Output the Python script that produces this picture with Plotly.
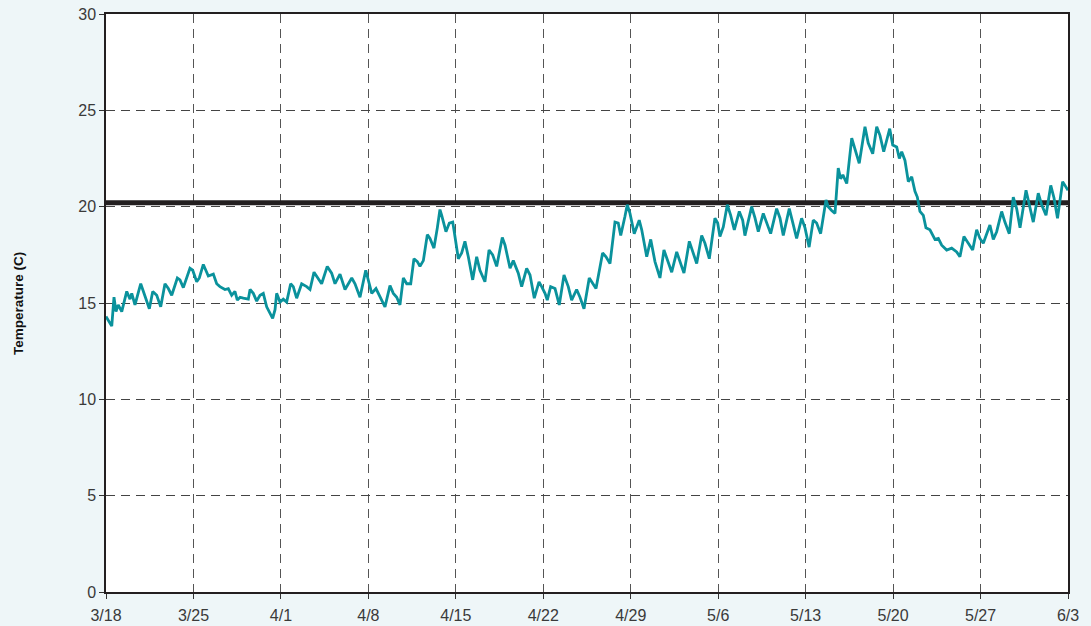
import pandas as pd
import plotly.graph_objects as go

# Water temperature record: elapsed days since 3/18 and readings in degrees C
start_date = "2011-03-18"
elapsed_days = [
    0.00, 0.46, 0.64, 0.80, 0.98, 1.26, 1.66, 1.92, 2.06, 2.32, 2.78, 3.12, 3.47, 3.74,
    4.06, 4.38, 4.72, 4.99, 5.26, 5.71, 5.92, 6.19, 6.72, 6.94, 7.26, 7.47, 7.79, 8.19,
    8.59, 8.86, 9.12, 9.52, 9.79, 10.06, 10.32, 10.51, 10.73, 10.99, 11.39, 11.53, 11.79,
    12.06, 12.33, 12.59, 12.86, 13.34, 13.53, 13.66, 13.93, 14.19, 14.46, 14.78, 14.99,
    15.26, 15.66, 16.06, 16.33, 16.65, 16.91, 17.26, 17.71, 18.06, 18.33, 18.73, 19.13,
    19.67, 19.93, 20.33, 20.79, 21.00, 21.27, 21.61, 21.88, 22.33, 22.73, 23.00, 23.27,
    23.53, 23.80, 24.07, 24.39, 24.65, 24.92, 25.13, 25.40, 25.72, 25.93, 26.25, 26.52,
    26.73, 26.87, 27.00, 27.21, 27.48, 27.75, 27.85, 28.20, 28.47, 28.73, 29.00, 29.35,
    29.67, 29.93, 30.33, 30.66, 30.95, 31.27, 31.72, 31.94, 32.34, 32.60, 33.00, 33.27,
    33.67, 33.94, 34.28, 34.66, 34.87, 35.14, 35.32, 35.59, 35.94, 36.28, 36.66, 37.00,
    37.27, 37.67, 37.94, 38.26, 38.68, 39.22, 39.75, 40.02, 40.34, 40.74, 41.00, 41.20,
    41.54, 41.72, 41.94, 42.28, 42.68, 42.88, 43.28, 43.60, 43.94, 44.34, 44.66, 44.93,
    45.28, 45.68, 45.94, 46.26, 46.69, 47.00, 47.28, 47.68, 47.94, 48.29, 48.74, 48.96,
    49.14, 49.41, 49.73, 50.00, 50.29, 50.69, 50.96, 51.14, 51.68, 51.95, 52.21, 52.61,
    52.88, 53.20, 53.68, 53.95, 54.21, 54.69, 54.96, 55.28, 55.68, 55.95, 56.28, 56.61,
    56.88, 57.20, 57.63, 57.81, 58.08, 58.35, 58.61, 58.80, 58.98, 59.29, 59.69, 59.95,
    60.29, 60.75, 61.01, 61.37, 61.69, 61.95, 62.25, 62.73, 62.97, 63.29, 63.50, 63.69,
    63.95, 64.22, 64.49, 64.75, 64.94, 65.15, 65.42, 65.63, 65.95, 66.35, 66.62, 66.89,
    67.29, 67.69, 68.09, 68.35, 68.67, 69.02, 69.37, 69.69, 69.95, 70.22, 70.49, 70.75,
    71.02, 71.29, 71.69, 71.95, 72.30, 72.62, 72.89, 73.16, 73.64, 73.90, 74.22, 74.62,
    74.89, 75.24, 75.62, 75.88, 76.16, 76.57, 76.84, 77.00,
]
temperature_c = [
    14.3, 13.8, 15.3, 14.55, 14.9, 14.55, 15.6, 15.2, 15.5, 14.9, 16.0, 15.3, 14.7, 15.6,
    15.4, 14.8, 16.0, 15.75, 15.4, 16.3, 16.2, 15.8, 16.8, 16.7, 16.1, 16.3, 17.0, 16.4,
    16.5, 16.0, 15.85, 15.7, 15.75, 15.4, 15.6, 15.15, 15.3, 15.25, 15.2, 15.7, 15.5,
    15.1, 15.4, 15.5, 14.8, 14.2, 14.65, 15.5, 15.05, 15.2, 15.05, 16.0, 15.85,
    15.25, 16.0, 15.85, 15.7, 16.6, 16.35, 16.0, 16.9, 16.55, 16.0, 16.5, 15.7,
    16.3, 16.0, 15.3, 16.7, 16.2, 15.5, 15.75, 15.4, 14.8, 15.9, 15.5, 15.3,
    14.9, 16.3, 16.0, 16.0, 17.3, 17.15, 16.9, 17.2, 18.55, 18.35, 17.85, 18.9,
    19.85, 19.55, 19.2, 18.7, 19.15, 19.2, 18.8, 17.3, 17.6, 18.2, 17.4, 16.2,
    17.4, 16.7, 16.1, 17.75, 17.5, 16.9, 18.4, 18.0, 16.8, 17.2, 16.55, 15.85,
    16.8, 16.45, 15.25, 16.1, 15.85, 15.5, 15.15, 15.85, 15.75, 14.9, 16.45, 15.85,
    15.15, 15.7, 15.3, 14.7, 16.3, 15.75, 17.6, 17.4, 17.05, 19.2, 19.15, 18.5,
    19.5, 20.1, 19.65, 18.6, 19.3, 18.8, 17.4, 18.3, 17.15, 16.3, 17.75, 17.2,
    16.6, 17.65, 17.2, 16.55, 18.2, 17.6, 17.05, 18.5, 18.1, 17.3, 19.4, 19.15,
    18.45, 18.95, 20.1, 19.55, 18.8, 19.75, 19.3, 18.5, 20.0, 19.4, 18.7, 19.65,
    19.2, 18.6, 19.9, 19.4, 18.5, 19.9, 19.2, 18.35, 19.4, 18.9, 17.9, 19.3,
    19.15, 18.6, 20.35, 20.0, 19.8, 19.65, 22.0, 21.45, 21.65, 21.2, 23.55, 23.0,
    22.25, 24.15, 23.3, 22.75, 24.15, 23.7, 22.85, 24.05, 23.2, 23.1, 22.5, 22.85,
    22.4, 21.3, 21.55, 20.8, 20.5, 19.75, 19.55, 18.9, 18.8, 18.3, 18.35, 18.0,
    17.75, 17.85, 17.65, 17.4, 18.45, 18.1, 17.75, 18.8, 18.35, 18.1, 18.6, 19.05,
    18.3, 18.7, 19.75, 19.2, 18.6, 20.5, 19.9, 18.9, 20.85, 20.15, 19.2, 20.7,
    20.1, 19.55, 21.1, 20.45, 19.4, 21.3, 21.05, 20.85,
]

# Reference temperature drawn as a heavy horizontal rule
threshold_c = 20.2

tick_labels = ["3/18", "3/25", "4/1", "4/8", "4/15", "4/22", "4/29",
               "5/6", "5/13", "5/20", "5/27", "6/3"]
y_ticks = [0, 5, 10, 15, 20, 25, 30]

t0 = pd.Timestamp(start_date)
times = [t0 + pd.Timedelta(days=d) for d in elapsed_days]
tick_dates = [t0 + pd.Timedelta(days=7 * i) for i in range(len(tick_labels))]
x_end = tick_dates[-1]

fig = go.Figure()

fig.add_trace(go.Scatter(
    x=[t0, x_end], y=[threshold_c, threshold_c],
    mode="lines", line=dict(color="#231f20", width=5),
    hoverinfo="skip", showlegend=False,
))

fig.add_trace(go.Scatter(
    x=times, y=temperature_c,
    mode="lines", line=dict(color="#0a929c", width=2.8),
    showlegend=False,
))

axis_font = dict(family="Liberation Sans, Arial, sans-serif", size=16, color="#3a3a3a")

fig.update_xaxes(
    range=[t0, x_end], automargin=False,
    tickmode="array", tickvals=tick_dates, ticktext=tick_labels,
    ticks="outside", ticklen=5, tickcolor="#333333", tickwidth=1,
    ticklabelstandoff=3,
    showline=True, linecolor="#231f20", linewidth=1.5, mirror=True,
    showgrid=True, gridcolor="#555555", gridwidth=1, griddash="9px,6px",
    tickfont=axis_font, zeroline=False,
)
fig.update_yaxes(
    range=[0, 30], automargin=False,
    tickmode="array", tickvals=y_ticks,
    ticks="outside", ticklen=5, tickcolor="#333333", tickwidth=1,
    showline=True, linecolor="#231f20", linewidth=1.5, mirror=True,
    showgrid=True, gridcolor="#444444", gridwidth=1, griddash="9px,6px",
    tickfont=axis_font, zeroline=False,
)

fig.add_annotation(
    text="<b>Temperature (C)</b>",
    xref="paper", yref="paper", x=-0.0915, y=0.5,
    xanchor="center", yanchor="middle", textangle=-90, showarrow=False,
    font=dict(family="Liberation Sans, Arial, sans-serif", size=13.5, color="#111111"),
)

fig.update_layout(
    width=1091, height=626,
    margin=dict(l=106, r=23, t=14, b=34),
    paper_bgcolor="#eef6f8",
    plot_bgcolor="#ffffff",
    hovermode="x",
)

fig.write_html("out.html")
